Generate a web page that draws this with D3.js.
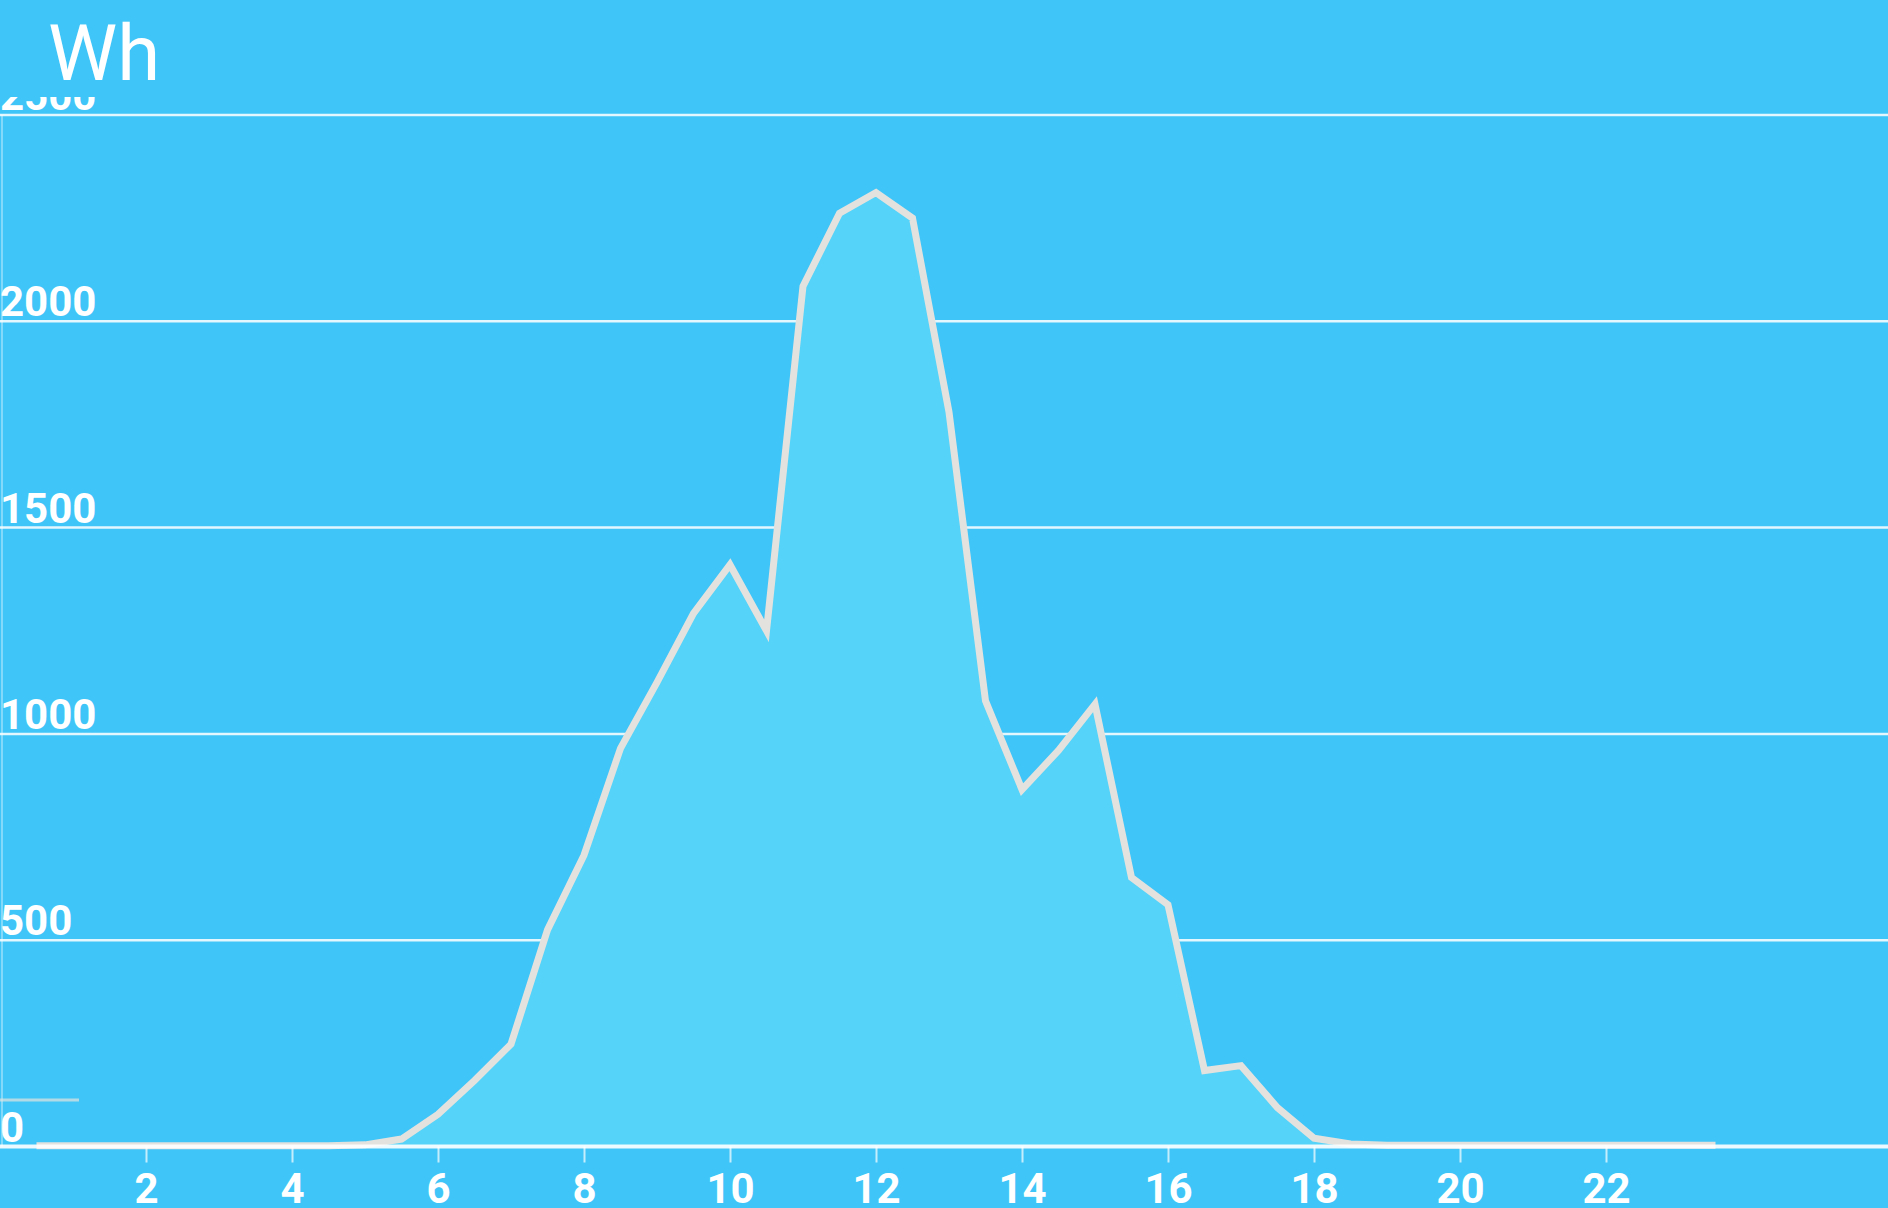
<!DOCTYPE html>
<html>
<head>
<meta charset="utf-8">
<script src="https://cdn.jsdelivr.net/npm/d3@7"></script>
<style>
html,body{margin:0;padding:0;background:#3FC5F8;overflow:hidden;}
svg{display:block;}
</style>
</head>
<body>
<svg id="chart" width="1888" height="1208"></svg>
<script>
const hours = [0.5,1,1.5,2,2.5,3,3.5,4,4.5,5,5.5,6,6.5,7,7.5,8,8.5,9,9.5,10,10.5,11,11.5,12,12.5,13,13.5,14,14.5,15,15.5,16,16.5,17,17.5,18,18.5,19,19.5,20,20.5,21,21.5,22,22.5,23,23.5];
const energy = [2,2,2,2,2,2,2,2,2,4,18,78,160,248,525,706,965,1125,1292,1410,1250,2085,2262,2312,2250,1780,1080,865,960,1072,652,586,184,196,94,20,6,3,3,3,3,3,3,3,3,3,3];
const yTicks = [0,500,1000,1500,2000,2500];
const xTicks = [2,4,6,8,10,12,14,16,18,20,22];
const unitLabel = "Wh";

const W = 1888, H = 1208;
const svg = d3.select("#chart");
const bg = "#3FC5F8";

const x = d3.scaleLinear().domain([0, 24]).range([0, 1752]);
const y = d3.scaleLinear().domain([0, 2500]).range([1146.5, 115]);

svg.append("rect").attr("width", W).attr("height", H).attr("fill", bg);

// grid lines
svg.append("g").selectAll("line").data(yTicks.filter(d => d > 0)).join("line")
  .attr("x1", 0).attr("x2", W)
  .attr("y1", d => y(d)).attr("y2", d => y(d))
  .attr("stroke", "#ffffff").attr("stroke-opacity", 0.85).attr("stroke-width", 2.5);

// left axis line
svg.append("line").attr("x1", 2).attr("x2", 2).attr("y1", y(2500)).attr("y2", y(0))
  .attr("stroke", "#ffffff").attr("stroke-opacity", 0.35).attr("stroke-width", 2);

// area + line
const pts = hours.map((h, i) => [h, energy[i]]);
svg.append("path").datum(pts)
  .attr("d", d3.area().x(d => x(d[0])).y0(y(0)).y1(d => y(d[1])))
  .attr("fill", "#55D3F8");

svg.append("path").datum(pts)
  .attr("d", d3.line().x(d => x(d[0])).y(d => y(d[1])))
  .attr("fill", "none").attr("stroke", "#E4E2DE").attr("stroke-width", 7)
  .attr("stroke-linejoin", "miter");

// x axis
const xAxis = d3.axisBottom(x).tickValues(xTicks).tickSize(16).tickPadding(11).tickFormat(d3.format("d"));
const gx = svg.append("g").attr("transform", `translate(0,${y(0)})`).call(xAxis);
gx.select(".domain").remove();
gx.selectAll(".tick line").attr("stroke", "#ffffff").attr("stroke-opacity", 0.7).attr("stroke-width", 2);
gx.selectAll(".tick text").attr("fill", "#ffffff").attr("font-family", "Roboto, sans-serif")
  .attr("font-size", 42).attr("font-weight", "bold").attr("dy", "0.71em");

svg.append("line").attr("x1", 0).attr("x2", W).attr("y1", y(0)).attr("y2", y(0))
  .attr("stroke", "#ffffff").attr("stroke-opacity", 0.9).attr("stroke-width", 4);

// y labels
svg.append("g").selectAll("text").data(yTicks).join("text")
  .attr("x", 0).attr("y", d => y(d) - 5)
  .attr("fill", "#ffffff").attr("font-family", "Roboto, sans-serif")
  .attr("font-size", 42).attr("font-weight", "bold")
  .text(d => d);

// small legend-like line
svg.append("line").attr("x1", 0).attr("x2", 79).attr("y1", 1100).attr("y2", 1100)
  .attr("stroke", "#E4E2DE").attr("stroke-opacity", 0.7).attr("stroke-width", 3);

// header covering top
svg.append("rect").attr("x", 0).attr("y", 0).attr("width", W).attr("height", 97).attr("fill", bg);
svg.append("text").attr("x", 48).attr("y", 80)
  .attr("fill", "#ffffff").attr("font-family", "Roboto, sans-serif")
  .attr("font-size", 78).text(unitLabel);
</script>
</body>
</html>
